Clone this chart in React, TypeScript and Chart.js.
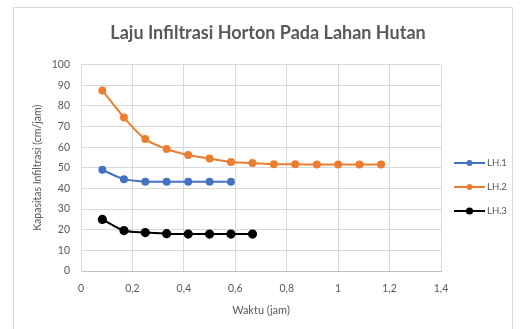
import React, { useEffect, useRef } from "react";
import { Chart, registerables } from "chart.js";

Chart.register(...registerables);

const titleText = "Laju Infiltrasi Horton Pada Lahan Hutan";
const xTitle = "Waktu (jam)";
const yTitle = "Kapasitas Infiltrasi (cm/jam)";

const waktu = [0.083, 0.167, 0.25, 0.333, 0.417, 0.5, 0.583, 0.667, 0.75, 0.833, 0.917, 1.0, 1.083, 1.167];
const lh1 = [49, 44.5, 43.3, 43.2, 43.2, 43.2, 43.2];
const lh2 = [87.5, 74.4, 63.9, 59.1, 56.2, 54.5, 52.8, 52.3, 51.7, 51.7, 51.6, 51.6, 51.6, 51.6];
const lh3 = [25, 19.6, 18.6, 18.1, 17.9, 17.9, 17.9, 17.9];

const seriesNames = ["LH.1", "LH.2", "LH.3"];
const seriesValues = [lh1, lh2, lh3];
const seriesColors = ["#4472C4", "#ED7D31", "#000000"];
const seriesRadius = [3, 3, 3.6];

const FONT = "Lato, 'Open Sans', sans-serif";
const TEXT = "#595959";
const GRID = "#d9d9d9";

const framePlugin = {
  id: "frame",
  beforeDraw(chart: any) {
    const ctx = chart.ctx;
    ctx.save();
    ctx.fillStyle = "#ffffff";
    ctx.fillRect(0, 0, chart.width, chart.height);
    ctx.strokeStyle = "#d9d9d9";
    ctx.lineWidth = 1;
    ctx.strokeRect(13.5, 7.5, 499, 340);
    ctx.restore();
  },
};

const legendPlugin = {
  id: "sideLegend",
  afterDraw(chart: any) {
    const ctx = chart.ctx;
    ctx.save();
    chart.data.datasets.forEach((ds: any, i: number) => {
      const y = 163 + i * 24;
      ctx.strokeStyle = ds.borderColor;
      ctx.lineWidth = 2;
      ctx.beginPath();
      ctx.moveTo(454, y);
      ctx.lineTo(485, y);
      ctx.stroke();
      ctx.fillStyle = ds.backgroundColor;
      ctx.beginPath();
      ctx.arc(469.5, y, ds.pointRadius, 0, Math.PI * 2);
      ctx.fill();
      ctx.fillStyle = TEXT;
      ctx.font = `9.5px ${FONT}`;
      ctx.textBaseline = "middle";
      ctx.textAlign = "left";
      ctx.fillText(ds.label, 487, y);
    });
    ctx.restore();
  },
};

export default function App() {
  const ref = useRef<HTMLCanvasElement>(null);
  useEffect(() => {
    document.body.style.margin = "0";
    const datasets = seriesNames.map((name, i) => ({
      label: name,
      data: seriesValues[i].map((v, j) => ({ x: waktu[j], y: v })),
      borderColor: seriesColors[i],
      backgroundColor: seriesColors[i],
      pointBackgroundColor: seriesColors[i],
      pointBorderColor: seriesColors[i],
      pointRadius: seriesRadius[i],
      borderWidth: 2,
      tension: 0.3,
      showLine: true,
      yAxisID: "y",
    }));
    const chart = new Chart(ref.current!, {
      type: "scatter",
      data: { datasets },
      plugins: [framePlugin, legendPlugin],
      options: {
        animation: false,
        responsive: false,
        layout: { padding: { left: 16, top: 0, right: 0, bottom: 0 } },
        plugins: {
          legend: { display: false },
          tooltip: { enabled: false },
          title: {
            display: true,
            text: titleText,
            color: TEXT,
            font: { family: FONT, size: 18, weight: "bold" },
            padding: { top: 22, bottom: 21 },
          },
        },
        scales: {
          x: {
            type: "linear",
            min: 0,
            max: 1.4,
            afterFit: (s: any) => { s.height = 58; },
            ticks: {
              stepSize: 0.2,
              color: TEXT,
              padding: 11,
              font: { family: FONT, size: 10.5 },
              callback: (v: any) => String(Math.round(Number(v) * 10) / 10).replace(".", ","),
            },
            grid: { color: GRID, drawTicks: false },
            border: { display: true, color: "#bfbfbf" },
            title: {
              display: true,
              text: xTitle,
              color: TEXT,
              font: { family: FONT, size: 11 },
              padding: { top: 0, bottom: 12 },
            },
          },
          y: {
            min: 0,
            max: 100,
            afterFit: (s: any) => { s.width = 65; },
            ticks: {
              stepSize: 10,
              color: TEXT,
              padding: 11,
              font: { family: FONT, size: 10.5 },
            },
            grid: { color: GRID, drawTicks: false },
            border: { display: true, color: GRID },
            title: {
              display: true,
              text: yTitle,
              color: TEXT,
              font: { family: FONT, size: 10.5 },
              padding: { top: 15, bottom: 0 },
            },
          },
          yRight: {
            position: "right",
            display: true,
            min: 0,
            max: 100,
            afterFit: (s: any) => { s.width = 79; },
            ticks: { display: false },
            grid: { display: false, drawTicks: false },
            border: { display: false },
          },
        },
      },
    });
    return () => chart.destroy();
  }, []);
  return (
    <div style={{ position: "absolute", left: 0, top: 0, width: 520, height: 329 }}>
      <canvas ref={ref} width={520} height={329} style={{ width: 520, height: 329 }} />
    </div>
  );
}
